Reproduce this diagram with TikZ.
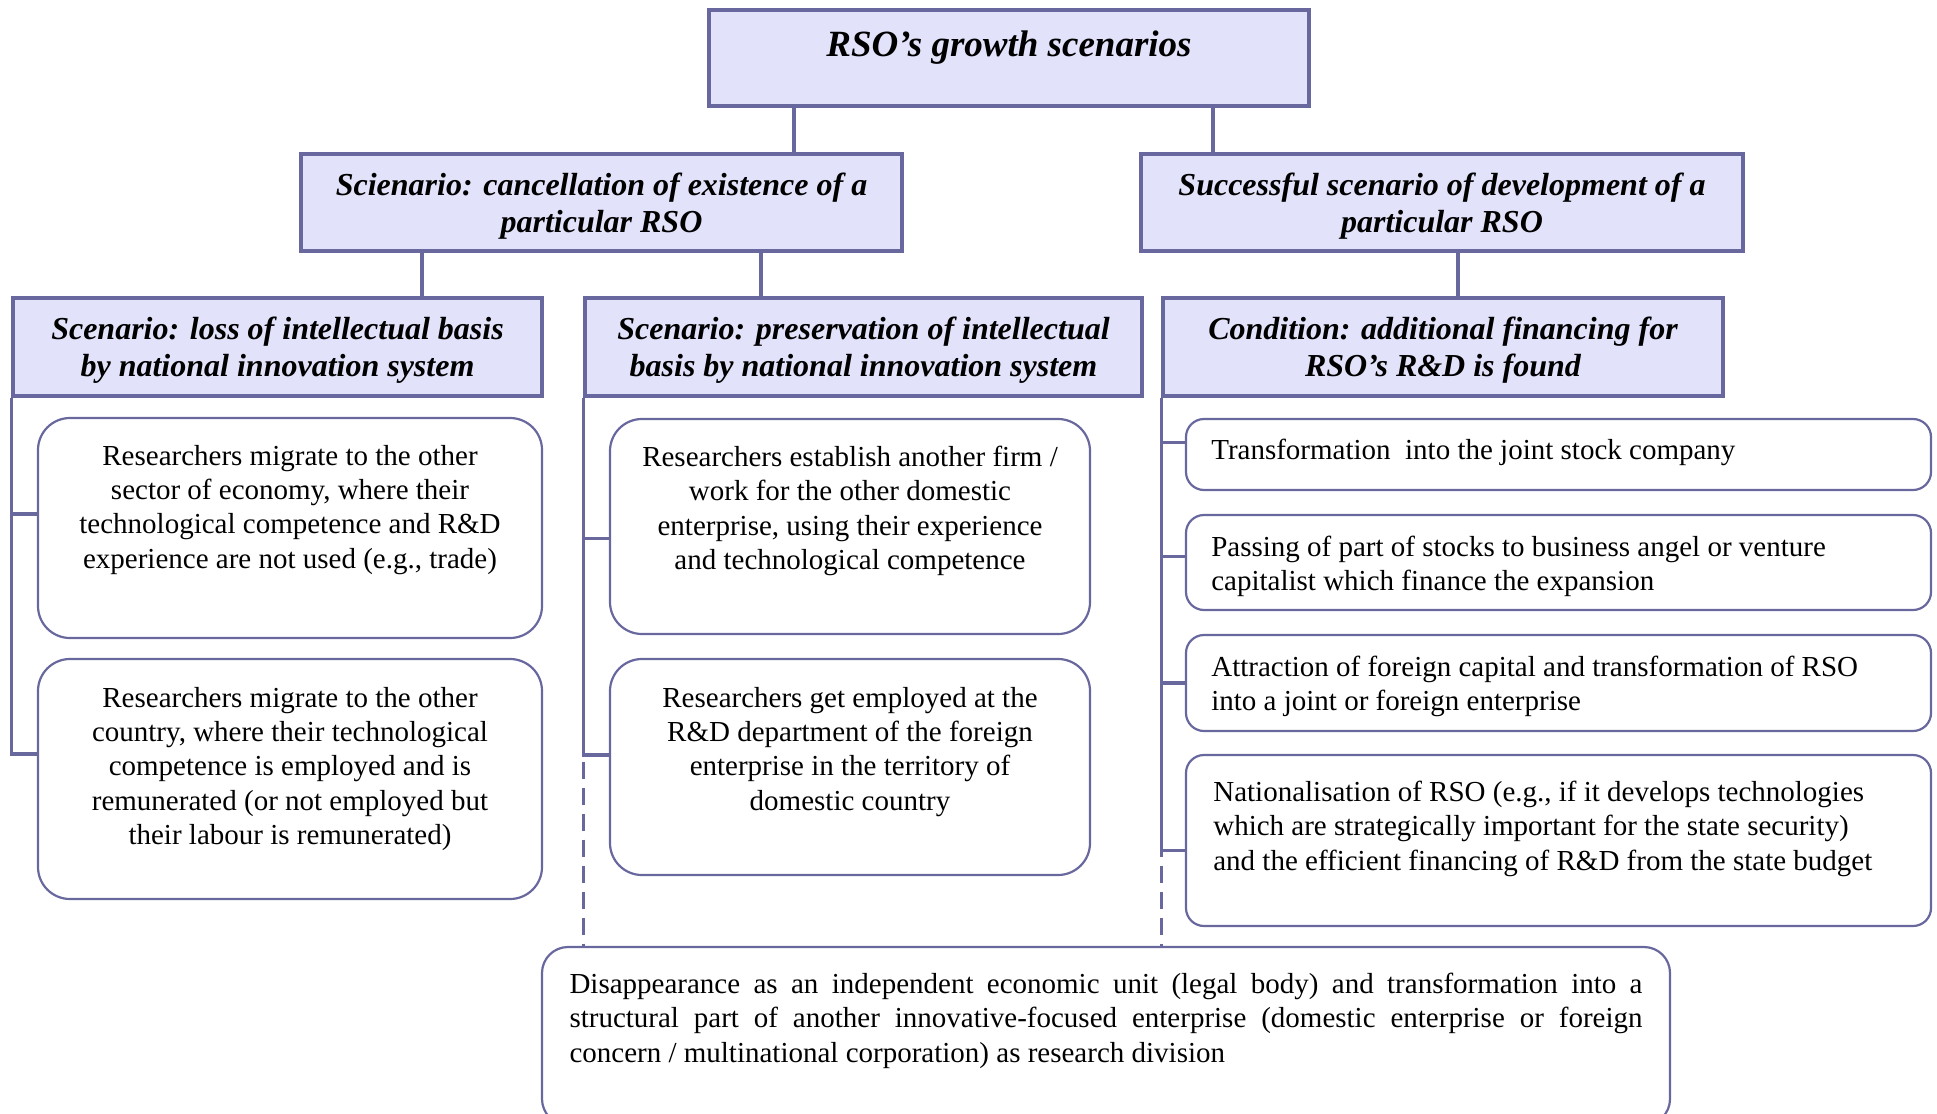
\documentclass[tikz,border=0pt]{standalone}
\usepackage{fontspec}
\setmainfont{Liberation Serif}
\usetikzlibrary{positioning}
\definecolor{rsoline}{RGB}{104,104,158}
\definecolor{rsofill}{RGB}{226,226,250}

\begin{document}
\begin{tikzpicture}[x=0.5pt,y=-0.5pt,
head/.style={rectangle,draw=rsoline,line width=1.6pt,fill=rsofill,
align=center,text depth=0pt,font=\fontsize{16}{18.5}\selectfont\bfseries\itshape},
leaf/.style={rectangle,draw=rsoline,line width=1.1pt,rounded corners=16pt},
rleaf/.style={leaf,rounded corners=9pt,minimum width=372.5pt},
txt/.style={inner sep=0pt,align=center,font=\fontsize{14.5}{17.1}\selectfont},
rtxt/.style={txt,align=left},
conn/.style={draw=rsoline,line width=1.8pt},
gap/.style={dash pattern=on 8.5pt off 4.5pt}]
\useasboundingbox (0,0) rectangle (1937,1113);

% headings
\node[head,minimum width=300pt,minimum height=48pt,text depth=14pt,
font=\fontsize{18.5}{21}\selectfont\bfseries\itshape]
(top) at (1009,58) {RSO’s growth scenarios};
\node[head,minimum width=300.5pt,minimum height=48.5pt]
(cancel) at (601.5,202.5) {Scienario: cancellation of existence of a\\particular RSO};
\node[head,minimum width=301pt,minimum height=48.5pt]
(success) at (1442,202.5) {Successful scenario of development of a\\particular RSO};
\node[head,minimum width=264.5pt,minimum height=49pt]
(loss) at (277.5,347) {Scenario: loss of intellectual basis\\by national innovation system};
\node[head,minimum width=278.5pt,minimum height=49pt]
(preserve) at (863.5,347) {Scenario: preservation of intellectual\\basis by national innovation system};
\node[head,minimum width=280pt,minimum height=49pt]
(cond) at (1443,347) {Condition: additional financing for\\RSO’s R\&D is found};

% left column
\node[leaf,minimum width=252pt,minimum height=110pt] (la1) at (290,528) {};
\node[txt,below=14pt of la1.north] (la1t) {Researchers migrate to the other\\sector of economy, where their\\technological competence and R\&D\\experience are not used (e.g., trade)};
\node[leaf,minimum width=252pt,minimum height=120pt] (la2) at (290,779) {};
\node[txt,below=14.5pt of la2.north] (la2t) {Researchers migrate to the other\\country, where their technological\\competence is employed and is\\remunerated (or not employed but\\their labour is remunerated)};

% middle column
\node[leaf,minimum width=240pt,minimum height=107.5pt] (mb1) at (850,526.5) {};
\node[txt,below=14pt of mb1.north] (mb1t) {Researchers establish another firm /\\work for the other domestic\\enterprise, using their experience\\and technological competence};
\node[leaf,minimum width=240pt,minimum height=108pt] (mb2) at (850,767) {};
\node[txt,below=14.5pt of mb2.north] (mb2t) {Researchers get employed at the\\R\&D department of the foreign\\enterprise in the territory of\\domestic country};

% right column
\node[rleaf,minimum height=35.5pt] (r1) at (1558.5,454.5) {};
\node[rtxt,below right=10.5pt and 13pt of r1.north west] (r1t) {Transformation\ \ into the joint stock company};
\node[rleaf,minimum height=47.5pt] (r2) at (1558.5,562.5) {};
\node[rtxt,below right=11pt and 13pt of r2.north west] (r2t) {Passing of part of stocks to business angel or venture\\capitalist which finance the expansion};
\node[rleaf,minimum height=48pt] (r3) at (1558.5,683) {};
\node[rtxt,below right=11pt and 13pt of r3.north west] (r3t) {Attraction of foreign capital and transformation of RSO\\into a joint or foreign enterprise};
\node[rleaf,minimum height=85.5pt] (r4) at (1558.5,840.5) {};
\node[rtxt,below right=13.5pt and 14pt of r4.north west] (r4t) {Nationalisation of RSO (e.g., if it develops technologies\\which are strategically important for the state security)\\and the efficient financing of R\&D from the state budget};

% bottom
\node[leaf,rounded corners=13pt,minimum width=564pt,minimum height=89pt] (bottom) at (1106,1036) {};
\node[txt,align=justify,text width=536.5pt,below=13.5pt of bottom.north] (bottomt) {Disappearance as an independent economic unit (legal body) and transformation into a\linebreak structural part of another innovative-focused enterprise (domestic enterprise or foreign\linebreak concern / multinational corporation) as research division};

% tree lines
\coordinate (x1) at (794,0);
\coordinate (x2) at (1213,0);
\coordinate (x3) at (422,0);
\coordinate (x4) at (761,0);
\coordinate (x5) at (1458,0);
\draw[conn] (top.south -| x1) -- (cancel.north -| x1);
\draw[conn] (top.south -| x2) -- (success.north -| x2);
\draw[conn] (cancel.south -| x3) -- (loss.north -| x3);
\draw[conn] (cancel.south -| x4) -- (preserve.north -| x4);
\draw[conn] (success.south -| x5) -- (cond.north -| x5);

\draw[conn] (loss.south west) |- ([yshift=12.5pt]la2.west);
\draw[conn] ([yshift=7pt]la1.west) -| (loss.south west);

\draw[conn,gap] (preserve.south west) -- (preserve.south west |- bottom.north);
\draw[conn] (preserve.south west) |- ([yshift=6pt]mb2.west);
\draw[conn] ([yshift=-6pt]mb1.west) -| (preserve.south west);

\draw[conn,gap] (cond.south west) -- (cond.south west |- bottom.north);
\draw[conn] (cond.south west) |- ([yshift=-5pt]r4.west);
\draw[conn] ([yshift=6pt]r1.west) -| (cond.south west);
\draw[conn] ([yshift=3pt]r2.west) -| (cond.south west);
\draw[conn] (r3.west) -| (cond.south west);
\end{tikzpicture}
\end{document}
